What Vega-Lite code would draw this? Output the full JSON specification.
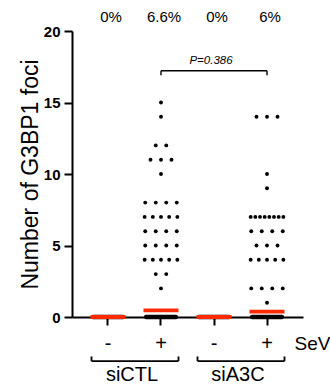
{
  "$schema": "https://vega.github.io/schema/vega-lite/v6.json",
  "autosize": "none",
  "width": 231,
  "height": 286,
  "padding": {"left": 72, "top": 31, "right": 27, "bottom": 68},
  "config": {
    "font": "Liberation Sans",
    "view": {"stroke": null},
    "axis": {"grid": false, "domainColor": "black", "tickColor": "black", "labelColor": "black", "titleColor": "black"}
  },
  "datasets": {
    "cells": [
      {"cond": "siCTL -", "foci": 0, "cells": 500},
      {"cond": "siCTL +", "foci": 0, "cells": 467},
      {"cond": "siA3C -", "foci": 0, "cells": 500},
      {"cond": "siA3C +", "foci": 0, "cells": 470},
      {"cond": "siCTL +", "foci": 15, "cells": 1},
      {"cond": "siCTL +", "foci": 14, "cells": 1},
      {"cond": "siCTL +", "foci": 12, "cells": 1},
      {"cond": "siCTL +", "foci": 12, "cells": 1},
      {"cond": "siCTL +", "foci": 11, "cells": 1},
      {"cond": "siCTL +", "foci": 11, "cells": 1},
      {"cond": "siCTL +", "foci": 11, "cells": 1},
      {"cond": "siCTL +", "foci": 10, "cells": 1},
      {"cond": "siCTL +", "foci": 8, "cells": 1},
      {"cond": "siCTL +", "foci": 8, "cells": 1},
      {"cond": "siCTL +", "foci": 8, "cells": 1},
      {"cond": "siCTL +", "foci": 8, "cells": 1},
      {"cond": "siCTL +", "foci": 7, "cells": 1},
      {"cond": "siCTL +", "foci": 7, "cells": 1},
      {"cond": "siCTL +", "foci": 7, "cells": 1},
      {"cond": "siCTL +", "foci": 7, "cells": 1},
      {"cond": "siCTL +", "foci": 7, "cells": 1},
      {"cond": "siCTL +", "foci": 6, "cells": 1},
      {"cond": "siCTL +", "foci": 6, "cells": 1},
      {"cond": "siCTL +", "foci": 6, "cells": 1},
      {"cond": "siCTL +", "foci": 6, "cells": 1},
      {"cond": "siCTL +", "foci": 5, "cells": 1},
      {"cond": "siCTL +", "foci": 5, "cells": 1},
      {"cond": "siCTL +", "foci": 5, "cells": 1},
      {"cond": "siCTL +", "foci": 5, "cells": 1},
      {"cond": "siCTL +", "foci": 4, "cells": 1},
      {"cond": "siCTL +", "foci": 4, "cells": 1},
      {"cond": "siCTL +", "foci": 4, "cells": 1},
      {"cond": "siCTL +", "foci": 4, "cells": 1},
      {"cond": "siCTL +", "foci": 4, "cells": 1},
      {"cond": "siCTL +", "foci": 3, "cells": 1},
      {"cond": "siCTL +", "foci": 3, "cells": 1},
      {"cond": "siCTL +", "foci": 2, "cells": 1},
      {"cond": "siA3C +", "foci": 14, "cells": 1},
      {"cond": "siA3C +", "foci": 14, "cells": 1},
      {"cond": "siA3C +", "foci": 14, "cells": 1},
      {"cond": "siA3C +", "foci": 10, "cells": 1},
      {"cond": "siA3C +", "foci": 9, "cells": 1},
      {"cond": "siA3C +", "foci": 7, "cells": 1},
      {"cond": "siA3C +", "foci": 7, "cells": 1},
      {"cond": "siA3C +", "foci": 7, "cells": 1},
      {"cond": "siA3C +", "foci": 7, "cells": 1},
      {"cond": "siA3C +", "foci": 7, "cells": 1},
      {"cond": "siA3C +", "foci": 7, "cells": 1},
      {"cond": "siA3C +", "foci": 7, "cells": 1},
      {"cond": "siA3C +", "foci": 7, "cells": 1},
      {"cond": "siA3C +", "foci": 6, "cells": 1},
      {"cond": "siA3C +", "foci": 6, "cells": 1},
      {"cond": "siA3C +", "foci": 6, "cells": 1},
      {"cond": "siA3C +", "foci": 6, "cells": 1},
      {"cond": "siA3C +", "foci": 5, "cells": 1},
      {"cond": "siA3C +", "foci": 5, "cells": 1},
      {"cond": "siA3C +", "foci": 5, "cells": 1},
      {"cond": "siA3C +", "foci": 4, "cells": 1},
      {"cond": "siA3C +", "foci": 4, "cells": 1},
      {"cond": "siA3C +", "foci": 4, "cells": 1},
      {"cond": "siA3C +", "foci": 4, "cells": 1},
      {"cond": "siA3C +", "foci": 4, "cells": 1},
      {"cond": "siA3C +", "foci": 2, "cells": 1},
      {"cond": "siA3C +", "foci": 2, "cells": 1},
      {"cond": "siA3C +", "foci": 2, "cells": 1},
      {"cond": "siA3C +", "foci": 2, "cells": 1},
      {"cond": "siA3C +", "foci": 1, "cells": 1}
    ],
    "groups": [
      {"sirna": "siCTL", "first": "siCTL -", "last": "siCTL +"},
      {"sirna": "siA3C", "first": "siA3C -", "last": "siA3C +"}
    ],
    "comparisons": [
      {"from": "siCTL +", "to": "siA3C +", "p": 0.386}
    ]
  },
  "layer": [
    {
      "data": {"name": "cells"},
      "transform": [
        {"filter": "datum.foci > 0"},
        {"window": [{"op": "row_number", "as": "rank"}], "groupby": ["cond", "foci"]},
        {"joinaggregate": [{"op": "count", "as": "n"}], "groupby": ["cond", "foci"]},
        {"calculate": "(datum.rank - (datum.n + 1) / 2) * min(10.5, 32.7 / max(1, datum.n - 1))", "as": "dx"}
      ],
      "mark": {"type": "circle", "size": 15, "color": "black", "opacity": 1},
      "encoding": {
        "x": {
          "field": "cond", "type": "nominal",
          "scale": {"type": "band", "domain": ["siCTL -", "siCTL +", "siA3C -", "siA3C +"], "paddingInner": 0, "paddingOuter": 0.179},
          "axis": {
            "labelExpr": "split(datum.label, ' ')[1]",
            "labelAngle": 0,
            "labelFontSize": 20,
            "labelBaseline": "alphabetic",
            "labelPadding": 24.5,
            "domainWidth": 2,
            "tickWidth": 2,
            "tickSize": 8,
            "title": "SeV",
            "titleFontSize": 19,
            "titleFontWeight": "normal",
            "titleX": 222,
            "titleY": 32.3,
            "titleAlign": "left",
            "titleBaseline": "alphabetic"
          }
        },
        "xOffset": {"field": "dx", "type": "quantitative", "scale": {"domain": [-26.5, 26.5], "range": [0, 53]}},
        "y": {
          "field": "foci", "type": "quantitative",
          "scale": {"domain": [0, 20], "nice": false},
          "axis": {
            "values": [0, 2.5, 5, 7.5, 10, 12.5, 15, 17.5, 20],
            "labelExpr": "datum.value % 5 === 0 ? datum.label : ''",
            "labelFontSize": 15,
            "labelFontWeight": "bold",
            "labelPadding": 4,
            "domainWidth": 2,
            "tickWidth": 2,
            "tickSize": {"condition": {"test": "datum.value % 5 === 0", "value": 8}, "value": 4},
            "title": "Number of G3BP1 foci",
            "titleFontSize": 23,
            "titleFontWeight": "normal",
            "titleAngle": -90,
            "titleX": -34.7,
            "titleY": 143,
            "titleAlign": "center",
            "titleBaseline": "alphabetic"
          }
        }
      }
    },
    {
      "data": {"name": "cells"},
      "transform": [{"filter": "datum.foci === 0"}],
      "mark": {"type": "tick", "size": 34, "thickness": 4.6, "cornerRadius": 2, "color": "black", "opacity": 1},
      "encoding": {
        "x": {"field": "cond", "type": "nominal"},
        "y": {"field": "foci", "type": "quantitative"}
      }
    },
    {
      "data": {"name": "cells"},
      "transform": [
        {"calculate": "datum.foci * datum.cells", "as": "fociTotal"},
        {"calculate": "datum.foci > 0 ? datum.cells : 0", "as": "positive"},
        {"aggregate": [
          {"op": "sum", "field": "fociTotal", "as": "sumFoci"},
          {"op": "sum", "field": "cells", "as": "n"},
          {"op": "sum", "field": "positive", "as": "pos"}
        ], "groupby": ["cond"]},
        {"calculate": "datum.sumFoci / datum.n", "as": "mean"},
        {"calculate": "datum.pos / datum.n", "as": "share"}
      ],
      "layer": [
        {
          "mark": {"type": "tick", "size": 35, "thickness": 3.8, "color": "#ff2a00", "opacity": 1},
          "encoding": {
            "x": {"field": "cond", "type": "nominal"},
            "y": {"field": "mean", "type": "quantitative"}
          }
        },
        {
          "mark": {"type": "text", "fontSize": 15, "baseline": "alphabetic", "dx": 3, "color": "black"},
          "encoding": {
            "x": {"field": "cond", "type": "nominal"},
            "y": {"datum": 20.65, "type": "quantitative"},
            "text": {"field": "share", "type": "quantitative", "format": ".2~%"}
          }
        }
      ]
    },
    {
      "data": {"name": "comparisons"},
      "layer": [
        {
          "mark": {"type": "rule", "color": "black", "strokeWidth": 1.4},
          "encoding": {
            "x": {"field": "from", "type": "nominal"},
            "x2": {"field": "to"},
            "y": {"datum": 17.22, "type": "quantitative"}
          }
        },
        {
          "mark": {"type": "rule", "color": "black", "strokeWidth": 1.4},
          "encoding": {
            "x": {"field": "from", "type": "nominal"},
            "y": {"datum": 17.22, "type": "quantitative"},
            "y2": {"datum": 16.9}
          }
        },
        {
          "mark": {"type": "rule", "color": "black", "strokeWidth": 1.4},
          "encoding": {
            "x": {"field": "to", "type": "nominal"},
            "y": {"datum": 17.22, "type": "quantitative"},
            "y2": {"datum": 16.9}
          }
        },
        {
          "transform": [{"calculate": "'P=' + format(datum.p, '.3f')", "as": "label"}],
          "mark": {"type": "text", "fontSize": 11.5, "fontStyle": "italic", "baseline": "alphabetic", "xOffset": 50, "color": "black"},
          "encoding": {
            "x": {"field": "from", "type": "nominal"},
            "y": {"datum": 17.69, "type": "quantitative"},
            "text": {"field": "label"}
          }
        }
      ]
    },
    {
      "data": {"name": "groups"},
      "layer": [
        {
          "mark": {"type": "rule", "color": "black", "strokeWidth": 1.8, "xOffset": -16.5, "x2Offset": 17.5},
          "encoding": {
            "x": {"field": "first", "type": "nominal"},
            "x2": {"field": "last"},
            "y": {"datum": -3.08, "type": "quantitative"}
          }
        },
        {
          "mark": {"type": "rule", "color": "black", "strokeWidth": 1.8, "xOffset": -16.5},
          "encoding": {
            "x": {"field": "first", "type": "nominal"},
            "y": {"datum": -3.08, "type": "quantitative"},
            "y2": {"datum": -2.76}
          }
        },
        {
          "mark": {"type": "rule", "color": "black", "strokeWidth": 1.8, "xOffset": 17.5},
          "encoding": {
            "x": {"field": "last", "type": "nominal"},
            "y": {"datum": -3.08, "type": "quantitative"},
            "y2": {"datum": -2.76}
          }
        },
        {
          "mark": {"type": "text", "fontSize": 20, "baseline": "alphabetic", "xOffset": 24, "color": "black"},
          "encoding": {
            "x": {"field": "first", "type": "nominal"},
            "y": {"datum": -4.5, "type": "quantitative"},
            "text": {"field": "sirna"}
          }
        }
      ]
    }
  ]
}
